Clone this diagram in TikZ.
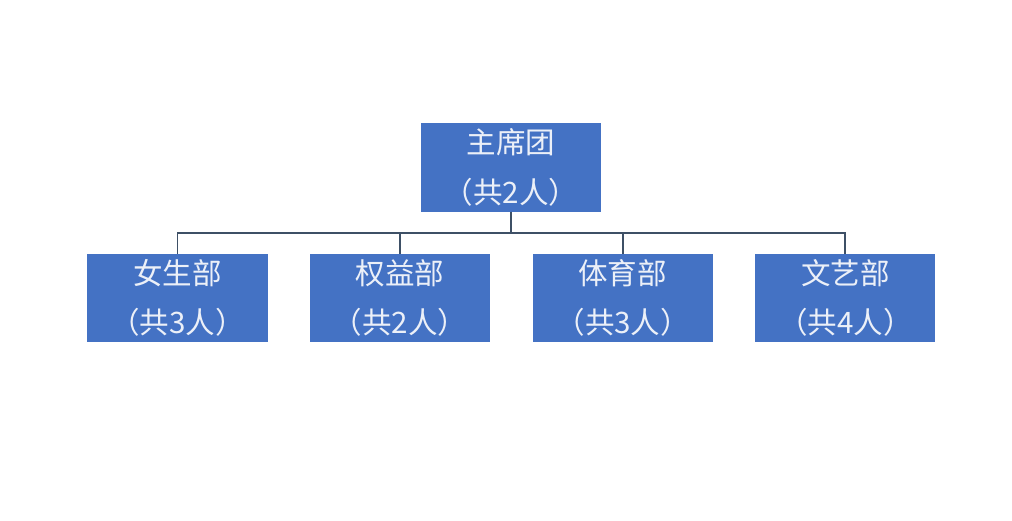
\documentclass[tikz,border=0pt]{standalone}
\usepackage{fontspec}
\setmainfont{Noto Sans CJK SC}
\usetikzlibrary{positioning}
\definecolor{boxblue}{RGB}{68,114,196}
\definecolor{linegray}{RGB}{62,80,102}
\definecolor{softwhite}{RGB}{236,240,248}

\begin{document}
\begin{tikzpicture}[x=0.025cm, y=-0.025cm,
    unit/.style={fill=boxblue, text=softwhite, minimum width=4.5cm, minimum height=2.2cm,
                 inner sep=0pt, align=center, font=\fontsize{21}{35}\selectfont},
    link/.style={draw=linegray, line width=1.3pt}]
            \useasboundingbox (0,0) rectangle (1012,520);
            % top box
            \node[unit] (main) at (511,167.5) {主席团\\（共2人）};
            % departments
            \node[unit] (girls)  at (177.5,298)       {女生部\\（共3人）};
            \node[unit, right=1.05cm of girls]  (rights) {权益部\\（共2人）};
            \node[unit, right=1.05cm of rights] (sports) {体育部\\（共3人）};
            \node[unit, right=1.05cm of sports] (arts)   {文艺部\\（共4人）};
            % connectors
            \foreach \d in {girls, rights, sports, arts}
                \draw[link] (main.south) -- ++(0,21) -| (\d.north);
\end{tikzpicture}
\end{document}
